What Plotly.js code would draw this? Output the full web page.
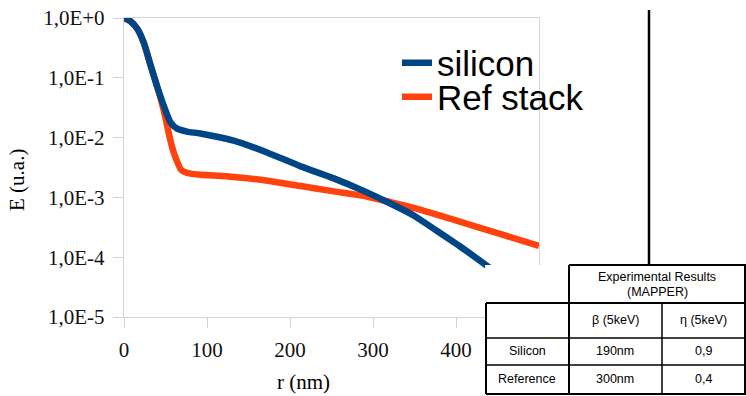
<!DOCTYPE html>
<html><head><meta charset="utf-8">
<script src="https://cdn.plot.ly/plotly-3.0.1.min.js"></script>
<style>html,body{margin:0;padding:0;background:#fff;}#c{width:746px;height:396px;}</style>
</head><body><div id="c"></div>
<script>
// Data
var siliconR = [0, 8, 16, 24, 32, 40, 48, 56, 64, 76, 92, 132, 173, 213, 252, 290, 321, 350, 373, 405, 445];
var siliconE = [1, 0.88, 0.66, 0.38, 0.162, 0.071, 0.034, 0.018, 0.0141, 0.0126, 0.0117, 0.0089, 0.0056, 0.0033, 0.0021, 0.00126, 0.00079, 0.00049, 0.0003, 0.000151, 0.00006];
var refR = [0, 8, 16, 24, 32, 40, 48, 52, 56, 60, 64, 68, 72, 80, 92, 132, 173, 213, 253, 290, 321, 350, 393, 453, 500];
var refE = [1, 0.88, 0.66, 0.38, 0.162, 0.071, 0.028, 0.0158, 0.0089, 0.0056, 0.0040, 0.0030, 0.0027, 0.0025, 0.0024, 0.0022, 0.0019, 0.00155, 0.00126, 0.00105, 0.00083, 0.00066, 0.00044, 0.000245, 0.000155];
var seriesNames = ["silicon", "Ref stack"];
var yTickVals = [1e-5, 1e-4, 1e-3, 1e-2, 1e-1, 1];
var yTickText = ["1,0E-5", "1,0E-4", "1,0E-3", "1,0E-2", "1,0E-1", "1,0E+0"];
var xTickVals = [0, 100, 200, 300, 400];
var xTitle = "r (nm)";
var yTitle = "E (u.a.)";
var tableHeader = ["Experimental Results", "(MAPPER)"];
var tableCols = ["β (5keV)", "η (5keV)"];
var tableRows = ["Silicon", "Reference"];
var tableBeta = ["190nm", "300nm"];
var tableEta = ["0,9", "0,4"];

var W = 746, H = 396, L = 124, R = 539, T = 18, B = 317;
function px(x){ return (x - L) / (R - L); }
function py(y){ return (B - y) / (B - T); }

var blue = "#004586", orange = "#ff420e";
var serif = "Liberation Serif";
var sans = "Liberation Sans";

var traces = [
  {x: refR, y: refE, name: seriesNames[1], legend: "legend2", mode: "lines", line: {color: orange, width: 6.5, shape: "spline", smoothing: 0.6}},
  {x: siliconR, y: siliconE, name: seriesNames[0], legend: "legend", mode: "lines", line: {color: blue, width: 6.5, shape: "spline", smoothing: 0.6}}
];

var shapes = [];
function line(x0, y0, x1, y1, w, c){
  shapes.push({type: "line", xref: "paper", yref: "paper", x0: px(x0), x1: px(x1), y0: py(y0), y1: py(y1), line: {color: c || "#000", width: w}, layer: "above"});
}
shapes.push({type: "rect", xref: "paper", yref: "paper", x0: px(485), x1: px(748), y0: py(398), y1: py(265), fillcolor: "#fff", line: {width: 0}, layer: "above"});
line(649, 10, 649, 265, 2.5);
line(569, 265, 746, 265, 2);
line(486, 303, 746, 303, 2);
line(486, 338, 746, 338, 1.5);
line(486, 365, 746, 365, 1.5);
line(486, 394, 746, 394, 2);
line(486, 303, 486, 394, 2);
line(569, 265, 569, 394, 2);
line(662, 303, 662, 394, 1.5);
line(745, 265, 745, 394, 2);

var ann = [];
function txt(s, x, y, size, font, extra){
  var a = {text: s, xref: "paper", yref: "paper", x: px(x), y: py(y), xanchor: "center", yanchor: "middle", showarrow: false, font: {family: font || sans, size: size, color: "#000"}};
  if (extra) for (var k in extra) a[k] = extra[k];
  ann.push(a);
}
txt(tableHeader[0], 657, 277, 12.5);
txt(tableHeader[1], 657, 292, 12.5);
txt(tableCols[0], 615, 320, 12.5);
txt(tableCols[1], 703, 320, 12.5);
for (var i = 0; i < tableRows.length; i++){
  var yy = [351, 379][i];
  txt(tableRows[i], 527, yy, 12.5);
  txt(tableBeta[i], 615, yy, 12.5);
  txt(tableEta[i], 703, yy, 12.5);
}
txt(xTitle, 303, 382, 21, serif);
txt(yTitle, 17, 180, 21, serif, {textangle: -90});

var legCommon = {xanchor: "left", yanchor: "middle", font: {family: sans, size: 35, color: "#000"}, bgcolor: "rgba(0,0,0,0)", itemwidth: 30};
var leg1 = Object.assign({}, legCommon, {x: px(397), y: py(63)});
var leg2 = Object.assign({}, legCommon, {x: px(397), y: py(97)});

var layout = {
  width: W, height: H,
  margin: {l: L, r: W - R, t: T, b: H - B, pad: 0},
  paper_bgcolor: "#fff", plot_bgcolor: "#fff",
  showlegend: true,
  legend: leg1,
  legend2: leg2,
  xaxis: {range: [0, 500], tickvals: xTickVals, showgrid: false, zeroline: false, showline: true, mirror: true, linecolor: "#d4d4d4", linewidth: 1.2, ticks: "outside", ticklen: 10, tickcolor: "#d4d4d4", tickfont: {family: serif, size: 21, color: "#111"}, ticklabelstandoff: 4},
  yaxis: {type: "log", range: [-5, 0], tickvals: yTickVals, ticktext: yTickText, showgrid: false, zeroline: false, showline: true, mirror: true, linecolor: "#d4d4d4", linewidth: 1.2, ticks: "outside", ticklen: 10, tickcolor: "#d4d4d4", tickfont: {family: serif, size: 21, color: "#111"}, ticklabelstandoff: 4},
  shapes: shapes,
  annotations: ann
};
Plotly.newPlot("c", traces, layout, {staticPlot: true, displayModeBar: false});
</script></body></html>
